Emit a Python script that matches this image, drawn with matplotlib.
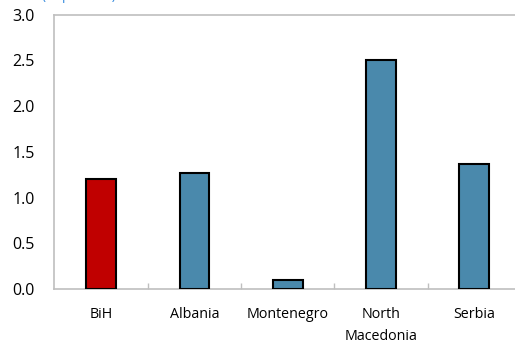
import numpy as np
import matplotlib
matplotlib.use('Agg')
import matplotlib.pyplot as plt
from matplotlib.ticker import FixedLocator

plt.rcParams['font.family'] = ['Open Sans', 'DejaVu Sans']

countries = ['BiH', 'Albania', 'Montenegro', 'North\nMacedonia', 'Serbia']
values = [1.20, 1.27, 0.10, 2.51, 1.37]
bar_colors = ['#C00000', '#4A89AC', '#4A89AC', '#4A89AC', '#4A89AC']
yticks = [0.0, 0.5, 1.0, 1.5, 2.0, 2.5, 3.0]

fig = plt.figure(figsize=(5.15, 3.46), dpi=100)
ax = fig.add_axes([0.1058, 0.1647, 0.9059, 0.7928])

x = np.arange(len(countries))
ax.bar(x, values, width=0.32, color=bar_colors, edgecolor='black', linewidth=1.5, zorder=3)

ax.set_xlim(-0.5, len(countries) - 0.5)
ax.set_ylim(0, 3.0)
ax.set_yticks(yticks)
ax.set_yticklabels(['{:.1f}'.format(v) for v in yticks], fontsize=11.5)
ax.set_xticks(x)
ax.set_xticklabels(countries, fontsize=10.3, linespacing=1.6)
ax.xaxis.set_minor_locator(FixedLocator(x[:-1] + 0.5))

ax.tick_params(axis='y', length=0, pad=14)
ax.tick_params(axis='x', which='major', length=0, pad=13)
ax.tick_params(axis='x', which='minor', direction='in', length=4.5, width=1, color='#BFBFBF')

for side in ['left', 'bottom', 'top']:
    ax.spines[side].set_color('#BFBFBF')
    ax.spines[side].set_linewidth(1.2)
ax.spines['right'].set_visible(False)

# unit label sits above the frame, mostly outside the canvas
fig.text(0.082, 1.003, '(In percent)', color='#3A8DDE', fontsize=10, va='baseline')

fig.savefig('out.png', dpi=100)
